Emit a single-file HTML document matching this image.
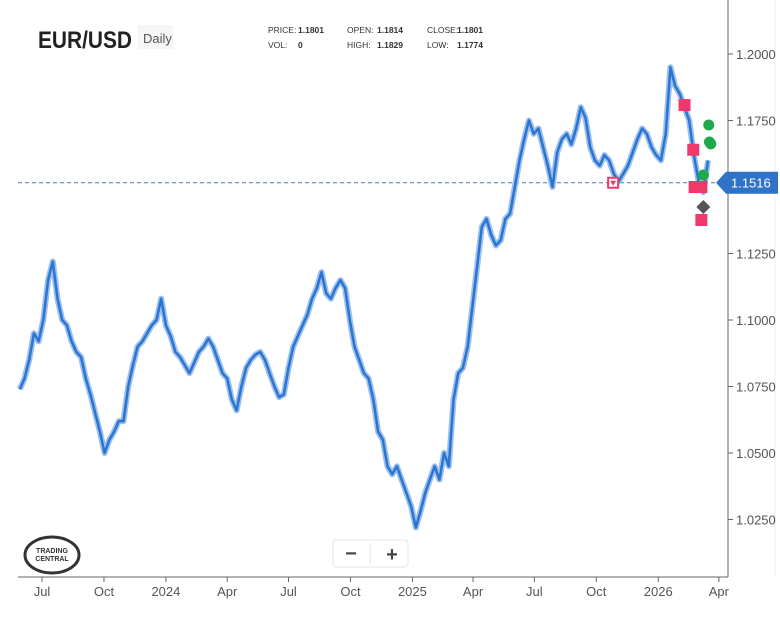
<!DOCTYPE html>
<html><head><meta charset="utf-8"><style>
body{margin:0;background:#fff;width:780px;height:618px;overflow:hidden;font-family:"Liberation Sans",sans-serif}
svg{position:absolute;left:0;top:0}
</style></head><body>
<svg id="c" width="780" height="618">
 <text x="38" y="48" font-size="24" font-weight="bold" fill="#222" textLength="94" lengthAdjust="spacingAndGlyphs">EUR/USD</text>
 <rect x="138" y="25" width="35" height="24" fill="#f6f6f6"/>
 <text x="143" y="43" font-size="13" fill="#555">Daily</text>
 <g font-size="8.5" fill="#333">
  <text x="268" y="33">PRICE:</text><text x="298" y="33" font-weight="bold">1.1801</text>
  <text x="268" y="48">VOL:</text><text x="298" y="48" font-weight="bold">0</text>
  <text x="347" y="33">OPEN:</text><text x="377" y="33" font-weight="bold">1.1814</text>
  <text x="347" y="48">HIGH:</text><text x="377" y="48" font-weight="bold">1.1829</text>
  <text x="427" y="33">CLOSE:</text><text x="457" y="33" font-weight="bold">1.1801</text>
  <text x="427" y="48">LOW:</text><text x="457" y="48" font-weight="bold">1.1774</text>
 </g>
 <line x1="775" y1="0" x2="775" y2="577" stroke="#eee"/>
 <g id="plot"></g>
 <g id="axes"></g>
 <g>
  <ellipse cx="52" cy="555" rx="27" ry="18" fill="none" stroke="#333" stroke-width="3"/>
  <text x="52" y="553" font-size="7" font-weight="bold" text-anchor="middle" fill="#333">TRADING</text>
  <text x="52" y="561" font-size="7" font-weight="bold" text-anchor="middle" fill="#333">CENTRAL</text>
 </g>
 <g>
  <rect x="333" y="540" width="75" height="27" rx="3" fill="#fff" stroke="#e4e4e4"/>
  <line x1="370" y1="543" x2="370" y2="564" stroke="#e4e4e4"/>
  <text x="351" y="560" font-size="20" font-weight="bold" text-anchor="middle" fill="#444">−</text>
  <text x="392" y="561" font-size="20" font-weight="bold" text-anchor="middle" fill="#444">+</text>
 </g>
</svg>
<script>
const startDate = "2023-05-29";
const closes = [1.074,1.078,1.085,1.095,1.092,1.100,1.115,1.122,1.108,1.100,1.098,1.092,1.088,1.086,1.078,1.072,1.065,1.058,1.050,1.055,1.058,1.062,1.062,1.075,1.083,1.090,1.092,1.095,1.098,1.100,1.108,1.098,1.094,1.088,1.086,1.083,1.080,1.084,1.088,1.090,1.093,1.090,1.085,1.080,1.078,1.070,1.066,1.075,1.082,1.085,1.087,1.088,1.085,1.080,1.075,1.071,1.072,1.082,1.090,1.094,1.098,1.102,1.108,1.112,1.118,1.110,1.108,1.112,1.115,1.112,1.100,1.090,1.085,1.080,1.078,1.070,1.058,1.055,1.045,1.042,1.045,1.040,1.035,1.030,1.022,1.028,1.035,1.040,1.045,1.040,1.050,1.045,1.070,1.080,1.082,1.090,1.105,1.120,1.135,1.138,1.132,1.128,1.130,1.138,1.140,1.150,1.160,1.168,1.175,1.170,1.172,1.165,1.158,1.150,1.163,1.168,1.170,1.166,1.172,1.180,1.176,1.165,1.160,1.158,1.162,1.160,1.155,1.152,1.155,1.158,1.163,1.168,1.172,1.170,1.165,1.162,1.160,1.170,1.195,1.188,1.185,1.180,1.175,1.162,1.152,1.148,1.160];
const yTicks = [1.0250,1.0500,1.0750,1.1000,1.1250,1.1500,1.1750,1.2000];
const xTickLabels = ["Jul","Oct","2024","Apr","Jul","Oct","2025","Apr","Jul","Oct","2026","Apr"];
const xTickDates = ["2023-07-01","2023-10-01","2024-01-01","2024-04-01","2024-07-01","2024-10-01","2025-01-01","2025-04-01","2025-07-01","2025-10-01","2026-01-01","2026-04-01"];
const lastPrice = 1.1516;
const redSquareDates = ["2026-02-09","2026-02-22","2026-02-24","2026-03-06","2026-03-06"];
const redSquarePrices = [1.1808,1.1640,1.1500,1.1500,1.1376];
const greenDates = ["2026-03-17","2026-03-18","2026-03-20","2026-03-09"];
const greenPrices = [1.1733,1.1669,1.1662,1.1545];
const diamondDates = ["2026-03-09"];
const diamondPrices = [1.1425];
const triangleDates = ["2025-10-26"];
const trianglePrices = [1.1516];

const NS="http://www.w3.org/2000/svg";
const day=864e5, t0=Date.parse("2023-07-01");
function xs(d){return 42+(Date.parse(d)-t0)/day*0.6735;}
function xi(i){return xs(startDate)+i*7*0.6735;}
function ys(p){return 54+(1.2-p)/0.025*66.5;}
function mk(tag,attrs,parent){const e=document.createElementNS(NS,tag);for(const k in attrs)e.setAttribute(k,attrs[k]);parent.appendChild(e);return e;}
const plot=document.getElementById('plot'), axes=document.getElementById('axes');

const dl=mk('line',{x1:18,x2:728,y1:ys(lastPrice),y2:ys(lastPrice),stroke:'#3a78c9','stroke-dasharray':'4,3'},plot);



const pts=closes.map((v,i)=>xi(i).toFixed(1)+','+ys(v).toFixed(1)).join(' ');
const under=mk('polyline',{points:pts,fill:'none',stroke:'#9cc0ee','stroke-width':6,'stroke-linejoin':'round'},plot);


const ln=mk('polyline',{points:pts,fill:'none',stroke:'#2a74d2','stroke-width':2.5,'stroke-linejoin':'round'},plot);



triangleDates.forEach((d,i)=>{const x=xs(d),y=ys(trianglePrices[i]);
 const r=mk('rect',{x:x-5,y:y-5,width:10,height:10,fill:'#fff',stroke:'#f0386b','stroke-width':2},plot);
 
 
 mk('polygon',{points:`${x-3},${y-2} ${x+3},${y-2} ${x},${y+3}`,fill:'#f0386b'},plot);});
redSquareDates.forEach((d,i)=>{const r=mk('rect',{x:xs(d)-6,y:ys(redSquarePrices[i])-6,width:12,height:12,fill:'#f0386b'},plot);
 
 });
greenDates.forEach((d,i)=>{const c=mk('circle',{cx:xs(d),cy:ys(greenPrices[i]),r:5.5,fill:'#1eaa4c'},plot);
 
 });
diamondDates.forEach((d,i)=>{const x=xs(d),y=ys(diamondPrices[i]);
 const p=mk('polygon',{points:`${x},${y-7} ${x+7},${y} ${x},${y+7} ${x-7},${y}`,fill:'#555'},plot);
 
 });

const ya=mk('line',{x1:728,x2:728,y1:0,y2:577,stroke:'#666'},axes);


yTicks.forEach(v=>{const y=ys(v);
 if(Math.abs(v-lastPrice)<0.01)return;
 mk('line',{x1:728,x2:733,y1:y,y2:y,stroke:'#666'},axes);
 const t=mk('text',{x:736,y:y+5,'font-size':13,fill:'#555'},axes);t.textContent=v.toFixed(4);
 
 });
const tg=mk('path',{d:`M716,${ys(lastPrice)} L726,${ys(lastPrice)-11} H778 V${ys(lastPrice)+11} H726 Z`,fill:'#2f72c8'},axes);


const tt=mk('text',{x:731,y:ys(lastPrice)+5,'font-size':13,fill:'#fff'},axes);tt.textContent=lastPrice.toFixed(4);



const xa=mk('line',{x1:18,x2:728,y1:577,y2:577,stroke:'#666'},axes);


xTickDates.forEach((d,i)=>{const x=xs(d);
 mk('line',{x1:x,x2:x,y1:577,y2:582,stroke:'#666'},axes);
 const t=mk('text',{x:x,y:596,'font-size':13,fill:'#555','text-anchor':'middle'},axes);t.textContent=xTickLabels[i];
 
 });
</script>
</body></html>
